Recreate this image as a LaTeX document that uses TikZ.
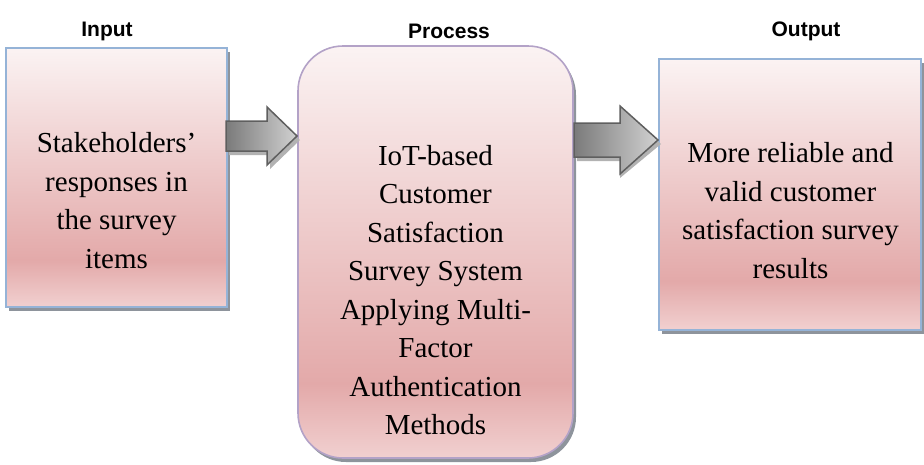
\documentclass[tikz,border=0pt]{standalone}
\usepackage{fontspec}
\setmainfont{Liberation Serif}
\newfontfamily\titlefont{Liberation Sans}
\usetikzlibrary{shadows,calc}
\definecolor{pinktop}{HTML}{FBF3F3}
\definecolor{pinkdark}{HTML}{E3A9A9}
\definecolor{pinkbot}{HTML}{F1D0D0}
\definecolor{blueedge}{HTML}{95B3D7}
\definecolor{lavedge}{HTML}{B3A2C7}
\definecolor{shadowgray}{HTML}{8E949C}
\definecolor{arrowedge}{HTML}{5F5F5F}
\pgfdeclareverticalshading{pinkshade}{100bp}{color(0bp)=(pinkbot); color(25bp)=(pinkbot); color(34bp)=(pinkdark); color(75bp)=(pinktop); color(100bp)=(pinktop)}
\tikzset{
  stagebox/.style={rectangle, shading=pinkshade, draw=blueedge, line width=1.6pt,
    drop shadow={shadow xshift=3pt, shadow yshift=-4pt, fill=shadowgray, opacity=1}},
  procbox/.style={stagebox, draw=lavedge, rounded corners=45pt},
  bodytext/.style={align=center, font=\fontsize{29}{38.5}\selectfont, inner sep=0pt},
  headtext/.style={font=\titlefont\bfseries\fontsize{21}{25}\selectfont, inner sep=0pt},
  fatarrow/.style={draw=arrowedge, line width=1.5pt, line join=miter, left color=black!52, right color=black!18},
  fatshadow/.style={fill=black!30}
}
\begin{document}
\begin{tikzpicture}[x=1pt,y=-1pt]
\useasboundingbox (0,0) rectangle (924,464);
% titles
\node[headtext] (tin) at (107,31) {Input};
\node[headtext] (tproc) at (449,31) {Process};
\node[headtext] (tout) at (806,31) {Output};
% boxes
\node[stagebox, minimum width=221pt, minimum height=259pt] (in) at (116.5,177.5) {};
\node[procbox, minimum width=275pt, minimum height=412pt] (proc) at (435.5,252) {};
\node[stagebox, minimum width=262pt, minimum height=271pt] (out) at (790,194.5) {};
% texts
\node[bodytext] (intext) at (116.5,200.5) {Stakeholders’\\responses in\\the survey\\items};
\node[bodytext] (proctext) at (435.5,290) {IoT-based\\Customer\\Satisfaction\\Survey System\\Applying Multi-\\Factor\\Authentication\\Methods};
\node[bodytext] (outtext) at (790.5,210.5) {More reliable and\\valid customer\\satisfaction survey\\results};
% arrows
\coordinate (a1s) at (226,136);
\coordinate (a1t) at (297,136);
\coordinate (a2s) at (574,140);
\coordinate (a2t) at (658,140);
\fill[fatshadow] ($(a1s)+(3,-15+4)$) -- ++(41,0) -- ++(0,-14) -- ($(a1t)+(3,4)$) -- ($(a1s)+(44,29+4)$) -- ++(0,-14) -- ($(a1s)+(3,15+4)$) -- cycle;
\draw[fatarrow] ($(a1s)+(0,-15)$) -- ++(41,0) -- ++(0,-14) -- (a1t) -- ($(a1s)+(41,29)$) -- ++(0,-14) -- ($(a1s)+(0,15)$) -- cycle;
\fill[fatshadow] ($(a2s)+(3,-17+4)$) -- ++(43,0) -- ++(0,-17) -- ($(a2t)+(3,4)$) -- ($(a2s)+(46,34+4)$) -- ++(0,-17) -- ($(a2s)+(3,17+4)$) -- cycle;
\draw[fatarrow] ($(a2s)+(0,-17)$) -- ++(46,0) -- ++(0,-17) -- (a2t) -- ($(a2s)+(46,34)$) -- ++(0,-17) -- ($(a2s)+(0,17)$) -- cycle;
\end{tikzpicture}
\end{document}
